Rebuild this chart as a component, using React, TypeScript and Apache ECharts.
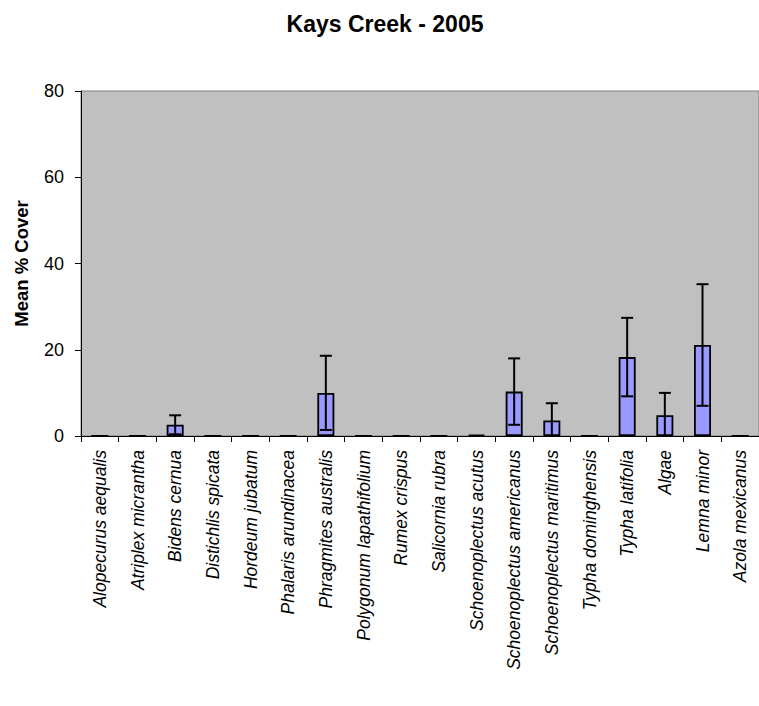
import React, { useEffect, useRef } from "react";
import * as echarts from "echarts";

const title = "Kays Creek - 2005";
const yAxisName = "Mean % Cover";
const categories = [
  "Alopecurus aequalis",
  "Atriplex micrantha",
  "Bidens cernua",
  "Distichlis spicata",
  "Hordeum jubatum",
  "Phalaris arundinacea",
  "Phragmites australis",
  "Polygonum lapathifolium",
  "Rumex crispus",
  "Salicornia rubra",
  "Schoenoplectus acutus",
  "Schoenoplectus americanus",
  "Schoenoplectus maritimus",
  "Typha dominghensis",
  "Typha latifolia",
  "Algae",
  "Lemna minor",
  "Azola mexicanus",
];
const meanCover = [0, 0, 2.6, 0, 0, 0, 10.0, 0, 0, 0, 0.3, 10.3, 3.6, 0, 18.3, 4.8, 21.1, 0];
const errorCover = [0, 0, 2.2, 0, 0, 0, 8.6, 0, 0, 0, 0, 7.7, 4.0, 0, 9.1, 5.2, 14.1, 0];
const yTicks = [0, 20, 40, 60, 80];

const FONT = "'Liberation Sans', Arial, sans-serif";

export default function App() {
  const ref = useRef<HTMLDivElement>(null);
  useEffect(() => {
    if (!ref.current) return;
    const chart = echarts.init(ref.current, undefined, { renderer: "svg" });
    const errData = categories
      .map((_, i) => [i, meanCover[i] - errorCover[i], meanCover[i] + errorCover[i], errorCover[i]])
      .filter((d) => d[3] > 0);
    chart.setOption({
      animation: false,
      backgroundColor: "#ffffff",
      title: {
        text: title,
        left: 380,
        textAlign: "center",
        top: 7,
        textStyle: { fontFamily: FONT, fontWeight: "bold", fontSize: 23, color: "#000" },
      },
      grid: {
        left: 81,
        top: 91,
        right: -10,
        bottom: 270,
        show: true,
        backgroundColor: "#C0C0C0",
        borderColor: "#808080",
        borderWidth: 1,
      },
      xAxis: {
        type: "category",
        data: categories,
        axisLine: { lineStyle: { color: "#000", width: 1 } },
        axisTick: { show: true, length: 6, lineStyle: { color: "#000" } },
        axisLabel: {
          rotate: 90,
          interval: 0,
          margin: 14,
          fontFamily: FONT,
          fontStyle: "italic",
          fontSize: 17.5,
          color: "#000",
        },
      },
      yAxis: {
        type: "value",
        min: yTicks[0],
        max: yTicks[yTicks.length - 1],
        interval: 20,
        name: yAxisName,
        nameLocation: "middle",
        nameGap: 50,
        nameRotate: 90,
        nameTextStyle: { fontFamily: FONT, fontWeight: "bold", fontSize: 18.5, color: "#000" },
        splitLine: { show: false },
        axisLine: { show: true, lineStyle: { color: "#000", width: 1 } },
        axisTick: { show: true, length: 6, lineStyle: { color: "#000" } },
        axisLabel: { margin: 17, fontFamily: FONT, fontSize: 18, color: "#000" },
      },
      series: [
        {
          type: "bar",
          data: meanCover,
          barWidth: 17,
          itemStyle: { color: "#9999FF", borderColor: "#000", borderWidth: 1.8 },
        },
        {
          type: "custom",
          data: errData,
          clip: true,
          z: 5,
          renderItem: (params: any, api: any) => {
            const x = api.value(0);
            const lo = api.coord([x, api.value(1)]);
            const hi = api.coord([x, api.value(2)]);
            const half = 6;
            const style = { stroke: "#000", lineWidth: 2 };
            return {
              type: "group",
              children: [
                { type: "line", shape: { x1: hi[0], y1: hi[1], x2: lo[0], y2: lo[1] }, style },
                { type: "line", shape: { x1: hi[0] - half, y1: hi[1], x2: hi[0] + half, y2: hi[1] }, style },
                { type: "line", shape: { x1: lo[0] - half, y1: lo[1], x2: lo[0] + half, y2: lo[1] }, style },
              ],
            };
          },
        },
      ],
    });
    return () => chart.dispose();
  }, []);
  return (
    <div
      ref={ref}
      style={{ position: "absolute", left: 0, top: 0, width: 759, height: 706, background: "#fff" }}
    />
  );
}
